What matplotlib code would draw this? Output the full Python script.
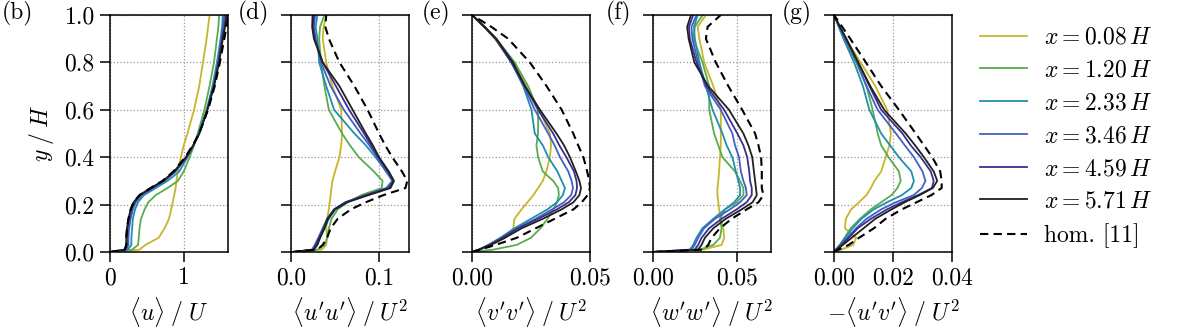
import numpy as np
import matplotlib
matplotlib.use("Agg")
import matplotlib.pyplot as plt

plt.rcParams['font.family'] = 'serif'
plt.rcParams['font.serif'] = ['cmr10', 'DejaVu Serif']
plt.rcParams['mathtext.fontset'] = 'cm'
plt.rcParams['axes.formatter.use_mathtext'] = True
plt.rcParams['font.size'] = 17

# wall-normal positions y/H shared by every profile
y = [0, .01, .03, .06, .1, .14, .18, .21, .24, .27, .3, .34, .4, .45, .5, .6, .7, .8, .9, .95, 1.0]

names = ['x = 0.08', 'x = 1.20', 'x = 2.33', 'x = 3.46', 'x = 4.59', 'x = 5.71']
labels = [r'$x = 0.08\,H$', r'$x = 1.20\,H$', r'$x = 2.33\,H$',
          r'$x = 3.46\,H$', r'$x = 4.59\,H$', r'$x = 5.71\,H$']
colors = ['#c8b62a', '#5aab4e', '#1f8fac', '#4161c4', '#3a2f8e', '#202020']

# (b) <u>/U
u_mean = [
    [0, 0.40, 0.48, 0.66, 0.74, 0.80, 0.83, 0.85, 0.87, 0.89, 0.90, 0.92, 0.96, 1.00, 1.05, 1.14, 1.21, 1.26, 1.31, 1.33, 1.35],
    [0, 0.30, 0.38, 0.39, 0.40, 0.42, 0.47, 0.52, 0.62, 0.78, 0.92, 1.00, 1.08, 1.14, 1.19, 1.28, 1.35, 1.41, 1.45, 1.47, 1.48],
    [0, 0.24, 0.29, 0.29, 0.30, 0.31, 0.34, 0.38, 0.46, 0.62, 0.78, 0.94, 1.05, 1.13, 1.20, 1.31, 1.39, 1.45, 1.50, 1.52, 1.53],
    [0, 0.22, 0.25, 0.25, 0.26, 0.28, 0.31, 0.35, 0.43, 0.58, 0.74, 0.89, 1.04, 1.13, 1.21, 1.32, 1.40, 1.47, 1.51, 1.53, 1.55],
    [0, 0.21, 0.23, 0.23, 0.24, 0.26, 0.29, 0.33, 0.41, 0.57, 0.73, 0.88, 1.04, 1.13, 1.21, 1.32, 1.41, 1.47, 1.52, 1.55, 1.57],
    [0, 0.20, 0.22, 0.22, 0.23, 0.25, 0.28, 0.32, 0.40, 0.55, 0.72, 0.87, 1.03, 1.13, 1.21, 1.32, 1.41, 1.48, 1.53, 1.56, 1.59],
]
u_mean_hom = [0, 0.20, 0.22, 0.22, 0.23, 0.25, 0.28, 0.32, 0.40, 0.55, 0.71, 0.86, 1.02, 1.12, 1.21, 1.33, 1.42, 1.49, 1.55, 1.58, 1.61]

# (d) <u'u'>/U^2
uu = [
    [0.002, 0.035, 0.040, 0.041, 0.040, 0.041, 0.043, 0.044, 0.045, 0.046, 0.047, 0.050, 0.055, 0.057, 0.058, 0.057, 0.047, 0.040, 0.036, 0.037, 0.040],
    [0.002, 0.030, 0.038, 0.041, 0.043, 0.046, 0.053, 0.064, 0.080, 0.103, 0.104, 0.094, 0.077, 0.067, 0.058, 0.043, 0.038, 0.034, 0.032, 0.033, 0.038],
    [0.002, 0.025, 0.029, 0.033, 0.038, 0.043, 0.050, 0.063, 0.084, 0.108, 0.115, 0.108, 0.096, 0.085, 0.072, 0.049, 0.040, 0.032, 0.030, 0.028, 0.030],
    [0.002, 0.024, 0.027, 0.031, 0.036, 0.041, 0.049, 0.062, 0.085, 0.110, 0.116, 0.108, 0.098, 0.089, 0.079, 0.060, 0.045, 0.034, 0.028, 0.026, 0.0275],
    [0.002, 0.025, 0.028, 0.032, 0.037, 0.041, 0.049, 0.062, 0.085, 0.111, 0.116, 0.110, 0.099, 0.091, 0.083, 0.066, 0.051, 0.036, 0.027, 0.025, 0.026],
    [0.002, 0.026, 0.030, 0.033, 0.038, 0.042, 0.050, 0.064, 0.088, 0.113, 0.117, 0.111, 0.100, 0.093, 0.085, 0.070, 0.055, 0.036, 0.026, 0.024, 0.0245],
]
uu_hom = [0.002, 0.030, 0.036, 0.041, 0.045, 0.053, 0.068, 0.085, 0.105, 0.130, 0.132, 0.126, 0.115, 0.107, 0.100, 0.087, 0.072, 0.055, 0.043, 0.039, 0.040]

# (e) <v'v'>/U^2
vv = [
    [0, 0.003, 0.008, 0.014, 0.0175, 0.018, 0.021, 0.0235, 0.026, 0.028, 0.030, 0.0315, 0.033, 0.0335, 0.033, 0.0285, 0.023, 0.0174, 0.0096, 0.005, 0],
    [0, 0.009, 0.019, 0.025, 0.029, 0.032, 0.0345, 0.036, 0.0368, 0.0365, 0.0344, 0.030, 0.028, 0.0273, 0.028, 0.028, 0.0238, 0.0181, 0.0103, 0.0054, 0],
    [0, 0.003, 0.007, 0.012, 0.018, 0.025, 0.032, 0.036, 0.0385, 0.0394, 0.038, 0.0362, 0.0323, 0.030, 0.0266, 0.0252, 0.0217, 0.0167, 0.010, 0.0052, 0],
    [0, 0.003, 0.007, 0.0125, 0.019, 0.027, 0.034, 0.039, 0.042, 0.0428, 0.0422, 0.0408, 0.0373, 0.035, 0.0323, 0.0266, 0.022, 0.0167, 0.010, 0.0052, 0],
    [0, 0.003, 0.0075, 0.013, 0.0195, 0.028, 0.036, 0.041, 0.0438, 0.0445, 0.0443, 0.0432, 0.040, 0.037, 0.0344, 0.028, 0.0225, 0.0167, 0.010, 0.0052, 0],
    [0, 0.003, 0.008, 0.014, 0.021, 0.030, 0.038, 0.043, 0.0455, 0.0462, 0.0455, 0.044, 0.0415, 0.039, 0.0358, 0.0288, 0.0224, 0.0174, 0.0103, 0.0054, 0],
]
vv_hom = [0, 0.0035, 0.010, 0.019, 0.027, 0.035, 0.043, 0.0465, 0.049, 0.050, 0.0497, 0.0488, 0.0472, 0.045, 0.0429, 0.038, 0.0316, 0.0245, 0.0153, 0.0082, 0]

# (f) <w'w'>/U^2
ww = [
    [0, 0.030, 0.041, 0.0425, 0.042, 0.0405, 0.0395, 0.039, 0.0385, 0.0385, 0.039, 0.0395, 0.040, 0.0405, 0.0405, 0.0405, 0.036, 0.0306, 0.0277, 0.0267, 0.0316],
    [0, 0.028, 0.036, 0.040, 0.041, 0.040, 0.043, 0.050, 0.054, 0.054, 0.052, 0.049, 0.0415, 0.039, 0.0365, 0.0336, 0.0336, 0.0296, 0.0241, 0.025, 0.0296],
    [0, 0.022, 0.024, 0.026, 0.0295, 0.036, 0.043, 0.0485, 0.052, 0.052, 0.051, 0.0495, 0.0474, 0.044, 0.0415, 0.0356, 0.0316, 0.0277, 0.025, 0.0245, 0.0267],
    [0, 0.023, 0.025, 0.027, 0.0305, 0.037, 0.046, 0.052, 0.056, 0.0555, 0.054, 0.0525, 0.0514, 0.049, 0.0474, 0.0405, 0.031, 0.027, 0.0235, 0.023, 0.026],
    [0, 0.025, 0.027, 0.029, 0.0335, 0.041, 0.050, 0.056, 0.059, 0.059, 0.058, 0.0575, 0.0563, 0.054, 0.0504, 0.0425, 0.032, 0.026, 0.022, 0.0215, 0.024],
    [0, 0.027, 0.029, 0.031, 0.036, 0.0435, 0.053, 0.0595, 0.062, 0.0615, 0.061, 0.0603, 0.0593, 0.057, 0.054, 0.0454, 0.033, 0.0247, 0.0213, 0.0204, 0.0227],
]
ww_hom = [0, 0.030, 0.033, 0.035, 0.040, 0.047, 0.056, 0.063, 0.066, 0.065, 0.065, 0.065, 0.0646, 0.063, 0.061, 0.0533, 0.045, 0.0375, 0.0316, 0.0326, 0.0405]

# (g) -<u'v'>/U^2
uv = [
    [0, 0.0025, 0.0065, 0.0075, 0.0037, 0.004, 0.0058, 0.0085, 0.011, 0.0125, 0.0137, 0.016, 0.0175, 0.0188, 0.0193, 0.018, 0.014, 0.009, 0.004, 0.002, 0],
    [0, 0.0006, 0.002, 0.0036, 0.0056, 0.0088, 0.0125, 0.016, 0.0195, 0.0215, 0.0226, 0.022, 0.0185, 0.016, 0.0148, 0.0131, 0.011, 0.0075, 0.0035, 0.0017, 0],
    [0, 0.0006, 0.002, 0.0038, 0.0063, 0.0093, 0.0135, 0.018, 0.023, 0.0262, 0.0271, 0.0262, 0.022, 0.019, 0.016, 0.012, 0.0098, 0.0068, 0.0032, 0.0016, 0],
    [0, 0.0008, 0.0022, 0.0045, 0.0075, 0.011, 0.016, 0.021, 0.027, 0.0298, 0.031, 0.030, 0.0271, 0.024, 0.021, 0.0148, 0.011, 0.0078, 0.0038, 0.0019, 0],
    [0, 0.0008, 0.0025, 0.005, 0.008, 0.0125, 0.018, 0.023, 0.0285, 0.0332, 0.0338, 0.0328, 0.0294, 0.026, 0.0232, 0.016, 0.012, 0.0082, 0.004, 0.002, 0],
    [0, 0.001, 0.003, 0.006, 0.010, 0.014, 0.0195, 0.024, 0.029, 0.0335, 0.035, 0.0338, 0.0305, 0.0275, 0.0243, 0.017, 0.0123, 0.0082, 0.0042, 0.002, 0],
]
uv_hom = [0, 0.0015, 0.005, 0.0085, 0.0135, 0.0175, 0.023, 0.028, 0.033, 0.0365, 0.0365, 0.036, 0.0333, 0.0305, 0.0277, 0.022, 0.016, 0.0108, 0.0055, 0.0028, 0]

panels = [
    ('(b)', u_mean, u_mean_hom, r'$\langle u\rangle\;/\;U$', 1.6, [0, 1], ['0', '1']),
    ('(d)', uu, uu_hom, r"$\langle u'u'\rangle\;/\;U^2$", 0.134, [0, 0.1], ['0.0', '0.1']),
    ('(e)', vv, vv_hom, r"$\langle v'v'\rangle\;/\;U^2$", 0.05, [0, 0.05], ['0.00', '0.05']),
    ('(f)', ww, ww_hom, r"$\langle w'w'\rangle\;/\;U^2$", 0.0705, [0, 0.05], ['0.00', '0.05']),
    ('(g)', uv, uv_hom, r"$-\langle u'v'\rangle\;/\;U^2$", 0.04, [0, 0.02, 0.04], ['0.00', '0.02', '0.04']),
]

W, H = 1181, 331
fig = plt.figure(figsize=(W / 100, H / 100), dpi=100)
lefts = [110, 291, 472, 653, 834]

for i, (tag, data, hom, xlabel, xmax, xt, xtl) in enumerate(panels):
    ax = fig.add_axes([lefts[i] / W, (H - 252) / H, 118 / W, 237 / H])
    for k in range(len(data)):
        ax.plot(data[k], y, color=colors[k], lw=1.3, label=labels[k])
    ax.plot(hom, y, color='black', lw=1.5, ls=(0, (4, 2.5)), label='hom. [11]')
    ax.set_xlim(0, xmax)
    ax.set_ylim(0, 1)
    ax.set_xticks(xt)
    ax.set_xticklabels(xtl)
    ax.set_yticks([0, 0.2, 0.4, 0.6, 0.8, 1.0])
    if i == 0:
        ax.set_yticklabels(['0.0', '0.2', '0.4', '0.6', '0.8', '1.0'])
        ax.set_ylabel(r'$y\;/\;H$', labelpad=6)
    else:
        ax.set_yticklabels([])
    ax.set_xlabel(xlabel, labelpad=4)
    ax.grid(True, ls=':', color='#999999', lw=0.9)
    ax.tick_params(direction='out', length=7, width=1.1, pad=4)
    for s in ax.spines.values():
        s.set_linewidth(1.1)
    if i == 0:
        fig.text(33 / W, 1 - 13 / H, tag, ha='right', va='center')
    else:
        fig.text((lefts[i] - 22) / W, 1 - 13 / H, tag, ha='right', va='center')

handles, labs = ax.get_legend_handles_labels()
fig.legend(handles, labs, loc='center left', bbox_to_anchor=(980 / W, 1 - 137.5 / H),
           frameon=False, borderpad=0, borderaxespad=0, handlelength=2.0,
           handletextpad=0.7, labelspacing=0.45, fontsize=17)

fig.savefig('out.png', dpi=100)
